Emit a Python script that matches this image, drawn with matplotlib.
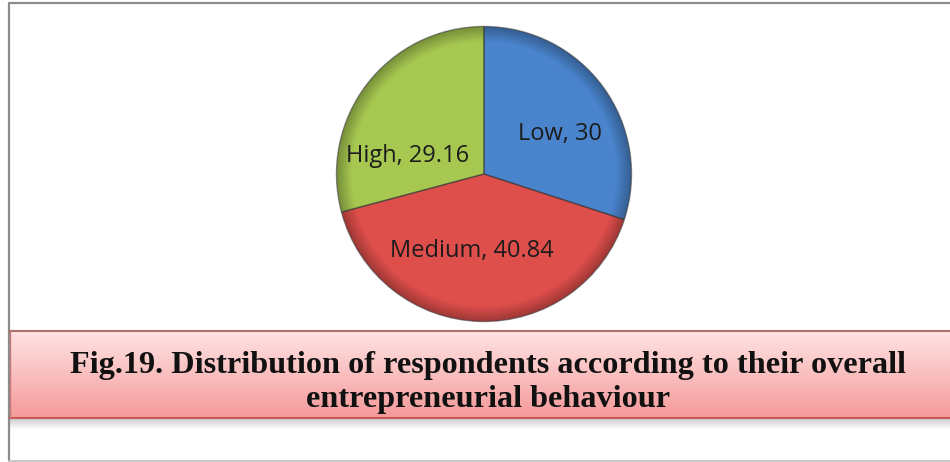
import numpy as np
import matplotlib
matplotlib.use("Agg")
import matplotlib.pyplot as plt
import matplotlib.colors as mcolors

categories = ["Low", "Medium", "High"]
values = [30, 40.84, 29.16]
colors = ["#4A84CC", "#DE4E4B", "#A6C851"]
title_lines = ["Fig.19. Distribution of respondents according to their overall",
               "entrepreneurial behaviour"]

W, H = 950, 462
fig = plt.figure(figsize=(W / 100, H / 100), dpi=100)
fig.patch.set_facecolor("white")

# background axes in pixel coordinates
bg = fig.add_axes([0, 0, 1, 1])
bg.axis("off")

# outer frame
bg.plot([9, 9, W + 5], [H - 1, 3, 3], color="#8c8c8c", lw=1.6, solid_capstyle="butt")
bg.plot([9, W + 5], [H - 1, H - 1], color="#bdbdbd", lw=1.2)

# banner with vertical gradient
top_c = np.array(mcolors.to_rgb("#FFE3E3"))
bot_c = np.array(mcolors.to_rgb("#F59A9A"))
t = np.linspace(0, 1, 100)[:, None]
grad = top_c[None, :] * (1 - t) + bot_c[None, :] * t
grad = np.repeat(grad[:, None, :], 2, axis=1)
shadow_c0 = np.array([0.80, 0.80, 0.80])
shadow_c1 = np.array([1.0, 1.0, 1.0])
ts = np.linspace(0, 1, 20)[:, None]
sgrad = shadow_c0[None, :] * (1 - ts) + shadow_c1[None, :] * ts
sgrad = np.repeat(sgrad[:, None, :], 2, axis=1)
bg.imshow(sgrad, extent=[10, W, 430, 418], aspect="auto", zorder=1, interpolation="bilinear")
bg.imshow(grad, extent=[10, W, 418, 331], aspect="auto", zorder=2, interpolation="bilinear")
bg.plot([10, W], [331, 331], color="#B07070", lw=1.5, zorder=3)
bg.plot([10, W], [418, 418], color="#C85A5A", lw=1.5, zorder=3)
bg.plot([10, 10], [331, 418], color="#C87878", lw=1.0, zorder=3)
bg.set_xlim(0, W)
bg.set_ylim(H, 0)

bg.text(488, 373, title_lines[0], ha="center", va="baseline", fontsize=23.2,
        fontweight="bold", family="Liberation Serif", color="#111111", zorder=4)
bg.text(488, 407, title_lines[1], ha="center", va="baseline", fontsize=23.2,
        fontweight="bold", family="Liberation Serif", color="#111111", zorder=4)

# pie axes
cx, cy, r = 484, 174, 149
ax = fig.add_axes([(cx - r) / W, (H - cy - r) / H, 2 * r / W, 2 * r / H])
ax.axis("off")

# shading layers: darker rim to lighter interior
n_layers = 14
for i in range(n_layers):
    frac = i / (n_layers - 1)
    rad = 1.0 - 0.10 * frac
    layer_cols = []
    for c in colors:
        base = np.array(mcolors.to_rgb(c))
        dark = base * 0.72
        col = dark * (1 - frac) + base * frac
        layer_cols.append(col)
    ax.pie(values, colors=layer_cols, startangle=90, counterclock=False,
           radius=rad, wedgeprops=dict(linewidth=0))

ax.pie(values, colors=["none"] * 3, startangle=90, counterclock=False, radius=1.0,
       wedgeprops=dict(linewidth=1.0, edgecolor="#3a3a3a", alpha=0.55))
ax.set_xlim(-1.01, 1.01)
ax.set_ylim(-1.01, 1.01)
ax.set_aspect("equal")

# labels (drawn in pie axes, positioned in figure pixel coordinates, baseline)
label_pos = [(560, 140), (472, 257), (408, 162)]
for (lx, ly), cat, v in zip(label_pos, categories, values):
    txt = f"{cat}, {v:g}"
    ax.text(lx, ly, txt, ha="center", va="baseline", fontsize=17,
            family="Open Sans", color="#1c1c1c", zorder=10,
            transform=bg.transData, clip_on=False)

fig.savefig("out.png", dpi=100, facecolor="white")
